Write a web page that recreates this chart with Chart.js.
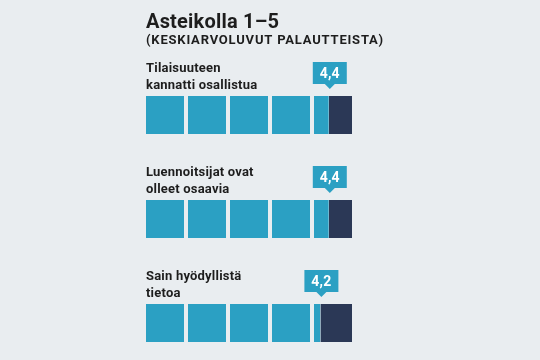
<!DOCTYPE html>
<html><head><meta charset="utf-8">
<script src="https://cdn.jsdelivr.net/npm/chart.js@4/dist/chart.umd.min.js"></script>
<style>html,body{margin:0;padding:0;background:#e9edf0;}canvas{display:block;}</style>
</head><body>
<canvas id="c" width="540" height="360"></canvas>
<script>
// ---- data ----
const titleText = 'Asteikolla 1–5';
const subtitleText = '(KESKIARVOLUVUT PALAUTTEISTA)';
const categories = [['Tilaisuuteen', 'kannatti osallistua'], ['Luennoitsijat ovat', 'olleet osaavia'], ['Sain hyödyllistä', 'tietoa']];
const values = [4.4, 4.4, 4.2];
const valueLabels = ['4,4', '4,4', '4,2'];
const scaleMax = 5;

// ---- styles ----
const BG = '#e9edf0';
const BLUE = '#2ba0c3';
const DARK = '#2b3856';
const TEXT = '#1d1d1d';
const FONT = 'Roboto, "DejaVu Sans", sans-serif';

const datasets = [];
for (let k = 0; k < scaleMax; k++) {
  datasets.push({
    label: 'filled ' + (k + 1),
    data: values.map(v => v > k ? [k, Math.min(k + 1, v)] : null),
    backgroundColor: BLUE,
    borderColor: BG,
    borderWidth: ctx => {
      const d = ctx.raw;
      if (!d) return 0;
      return { left: 2, right: d[1] >= k + 1 ? 2 : 0, top: 0, bottom: 0 };
    }
  });
  datasets.push({
    label: 'empty ' + (k + 1),
    data: values.map(v => v < k + 1 ? [Math.max(k, v), k + 1] : null),
    backgroundColor: DARK,
    borderColor: BG,
    borderWidth: ctx => {
      const d = ctx.raw;
      if (!d) return 0;
      return { left: d[0] <= k ? 2 : 0, right: 2, top: 0, bottom: 0 };
    }
  });
}

const textPlugin = {
  id: 'texts',
  afterDatasetsDraw(chart) {
    const ctx = chart.ctx;
    const xs = chart.scales.x, ys = chart.scales.y;
    const left = chart.chartArea.left + 2;
    ctx.save();
    ctx.fillStyle = TEXT;
    ctx.textAlign = 'left';
    ctx.textBaseline = 'alphabetic';
    ctx.font = 'bold 20px ' + FONT;
    ctx.letterSpacing = '0.2px';
    ctx.fillText(titleText, left, 28);
    ctx.font = 'bold 13px ' + FONT;
    ctx.letterSpacing = '0.8px';
    ctx.fillText(subtitleText, left, 43.5);
    ctx.font = 'bold 13px ' + FONT;
    ctx.letterSpacing = '0.2px';
    categories.forEach((lines, i) => {
      const yc = ys.getPixelForValue(i);
      lines.forEach((ln, j) => ctx.fillText(ln, left, yc - 43 + j * 17));
      // callout
      const xv = xs.getPixelForValue(values[i]) + 1;
      const barTop = yc - 19;
      const bBot = barTop - 12, bTop = bBot - 22, w = 34;
      ctx.fillStyle = BLUE;
      ctx.beginPath();
      ctx.rect(xv - w / 2, bTop, w, bBot - bTop);
      ctx.fill();
      ctx.beginPath();
      ctx.moveTo(xv - 5, bBot);
      ctx.lineTo(xv + 5, bBot);
      ctx.lineTo(xv, barTop - 7);
      ctx.closePath();
      ctx.fill();
      ctx.fillStyle = '#ffffff';
      ctx.textAlign = 'center';
      ctx.font = 'bold 14px ' + FONT;
      ctx.fillText(valueLabels[i], xv, bBot - 6.5);
      ctx.font = 'bold 13px ' + FONT;
      ctx.textAlign = 'left';
      ctx.fillStyle = TEXT;
    });
    ctx.restore();
  }
};

new Chart(document.getElementById('c'), {
  type: 'bar',
  data: { labels: categories.map(c => c.join(' ')), datasets },
  options: {
    indexAxis: 'y',
    responsive: false,
    animation: false,
    devicePixelRatio: 1,
    layout: { padding: { left: 144, right: 186, top: 115, bottom: 37 } },
    datasets: { bar: { grouped: false, barThickness: 38, borderSkipped: false, inflateAmount: 0, clip: false } },
    scales: {
      x: { type: 'linear', min: 0, max: scaleMax, display: false },
      y: { type: 'category', offset: false, display: false }
    },
    plugins: { legend: { display: false }, tooltip: { enabled: false }, title: { display: false } }
  },
  plugins: [textPlugin]
});
</script>
</body></html>
